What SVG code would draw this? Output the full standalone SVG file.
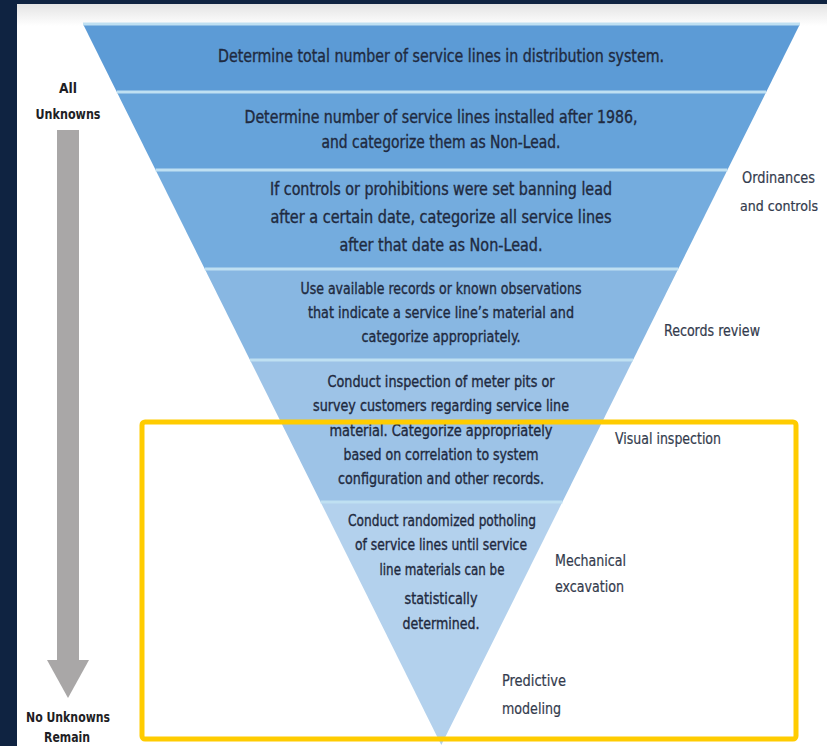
<svg xmlns="http://www.w3.org/2000/svg" width="827" height="746" viewBox="0 0 827 746">
<defs>
<linearGradient id="topfade" x1="0" y1="0" x2="0" y2="1">
<stop offset="0" stop-color="#e4e4e4"/>
<stop offset="1" stop-color="#ffffff"/>
</linearGradient>
<style>
.band{stroke:none}
.sep{stroke:#bfe0f2;stroke-width:3}
.t{font-family:"Liberation Sans Narrow","DejaVu Sans Condensed","Liberation Sans",sans-serif;fill:#1f2a40;stroke:#1f2a40;stroke-width:0.35;text-anchor:middle}
.big{font-size:17px}
.mid{font-size:15.5px}
.lab{font-family:"Liberation Sans Narrow","DejaVu Sans Condensed","Liberation Sans",sans-serif;fill:#333b4d;stroke:#333b4d;stroke-width:0.2;font-size:16px}
.side{font-family:"Liberation Sans Narrow","DejaVu Sans Condensed","Liberation Sans",sans-serif;fill:#1e1e24;font-size:14px;font-weight:bold;text-anchor:middle}
</style>
</defs>
<rect x="0" y="0" width="827" height="746" fill="#ffffff"/>
<rect x="17" y="4" width="810" height="22" fill="url(#topfade)"/>
<rect x="0" y="0" width="827" height="4" fill="#0f2341"/>
<rect x="0" y="0" width="17" height="746" fill="#0f2341"/>

<g id="pyramid">
<g id="band1"><polygon class="band" points="83,24 800,24 766.2,92 116.8,92" fill="#5c9bd6"/>
<text class="t big" x="441" y="62" textLength="446" lengthAdjust="spacingAndGlyphs">Determine total number of service lines in distribution system.</text></g>
<g id="band2"><polygon class="band" points="116.8,92 766.2,92 727.4,170 155.6,170" fill="#66a3da"/>
<text class="t big" x="441" y="123" textLength="393" lengthAdjust="spacingAndGlyphs">Determine number of service lines installed after 1986,</text>
<text class="t big" x="441" y="148" textLength="239" lengthAdjust="spacingAndGlyphs">and categorize them as Non-Lead.</text></g>
<g id="band3"><polygon class="band" points="155.6,170 727.4,170 678.2,269 204.8,269" fill="#74acde"/>
<text class="t big" x="441" y="195" textLength="342" lengthAdjust="spacingAndGlyphs">If controls or prohibitions were set banning lead</text>
<text class="t big" x="441" y="223" textLength="341" lengthAdjust="spacingAndGlyphs">after a certain date, categorize all service lines</text>
<text class="t big" x="441" y="251" textLength="203" lengthAdjust="spacingAndGlyphs">after that date as Non-Lead.</text></g>
<g id="band4"><polygon class="band" points="204.8,269 678.2,269 633,360 250,360" fill="#88b7e2"/>
<text class="t mid" x="441" y="294" textLength="281" lengthAdjust="spacingAndGlyphs">Use available records or known observations</text>
<text class="t mid" x="441" y="318" textLength="266" lengthAdjust="spacingAndGlyphs">that indicate a service line’s material and</text>
<text class="t mid" x="441" y="342" textLength="159" lengthAdjust="spacingAndGlyphs">categorize appropriately.</text></g>
<g id="band5"><polygon class="band" points="250,360 633,360 562.4,502 320.6,502" fill="#9dc3e7"/>
<text class="t mid" x="441" y="387" textLength="227" lengthAdjust="spacingAndGlyphs">Conduct inspection of meter pits or</text>
<text class="t mid" x="441" y="411" textLength="256" lengthAdjust="spacingAndGlyphs">survey customers regarding service line</text>
<text class="t mid" x="441" y="436" textLength="223" lengthAdjust="spacingAndGlyphs">material. Categorize appropriately</text>
<text class="t mid" x="441" y="460" textLength="195" lengthAdjust="spacingAndGlyphs">based on correlation to system</text>
<text class="t mid" x="441" y="484" textLength="206" lengthAdjust="spacingAndGlyphs">configuration and other records.</text></g>
<g id="band6"><polygon class="band" points="320.6,502 562.4,502 441.3,745" fill="#b3d1ed"/>
<text class="t mid" x="442" y="526" textLength="188" lengthAdjust="spacingAndGlyphs">Conduct randomized potholing</text>
<text class="t mid" x="441" y="550" textLength="172" lengthAdjust="spacingAndGlyphs">of service lines until service</text>
<text class="t mid" x="442" y="575" textLength="125" lengthAdjust="spacingAndGlyphs">line materials can be</text>
<text class="t mid" x="441" y="604" textLength="73" lengthAdjust="spacingAndGlyphs">statistically</text>
<text class="t mid" x="441" y="629" textLength="77" lengthAdjust="spacingAndGlyphs">determined.</text></g>
<g id="separators">
<line class="sep" x1="83" y1="24" x2="800" y2="24"/>
<line class="sep" x1="116.8" y1="92" x2="766.2" y2="92"/>
<line class="sep" x1="155.6" y1="170" x2="727.4" y2="170"/>
<line class="sep" x1="204.8" y1="269" x2="678.2" y2="269"/>
<line class="sep" x1="250" y1="360" x2="633" y2="360"/>
<line class="sep" x1="320.6" y1="502" x2="562.4" y2="502"/>
</g>
</g>

<g id="labels">
<text class="lab" x="742" y="183" textLength="73" lengthAdjust="spacingAndGlyphs">Ordinances</text>
<text class="lab" x="740" y="211" textLength="78" lengthAdjust="spacingAndGlyphs" style="font-size:14px">and controls</text>
<text class="lab" x="664" y="336" textLength="96" lengthAdjust="spacingAndGlyphs">Records review</text>
<text class="lab" x="615" y="444" textLength="106" lengthAdjust="spacingAndGlyphs">Visual inspection</text>
<text class="lab" x="555" y="566" textLength="71" lengthAdjust="spacingAndGlyphs">Mechanical</text>
<text class="lab" x="555" y="592" textLength="69" lengthAdjust="spacingAndGlyphs">excavation</text>
<text class="lab" x="502" y="686" textLength="64" lengthAdjust="spacingAndGlyphs">Predictive</text>
<text class="lab" x="502" y="714" textLength="59" lengthAdjust="spacingAndGlyphs">modeling</text>
</g>

<g id="arrow">
<rect x="57" y="130" width="22" height="531" fill="#a9a7a7"/>
<polygon points="47,660 89,660 68,698" fill="#a9a7a7"/>
<text class="side" x="68" y="93" textLength="18" lengthAdjust="spacingAndGlyphs">All</text>
<text class="side" x="68" y="119" textLength="65" lengthAdjust="spacingAndGlyphs">Unknowns</text>
<text class="side" x="68" y="722" textLength="84" lengthAdjust="spacingAndGlyphs">No Unknowns</text>
<text class="side" x="67" y="742" textLength="46" lengthAdjust="spacingAndGlyphs">Remain</text>
</g>

<g id="highlight">
<rect x="142" y="422" width="654" height="317" rx="3" fill="none" stroke="#ffcc00" stroke-width="5"/>
</g>
</svg>
